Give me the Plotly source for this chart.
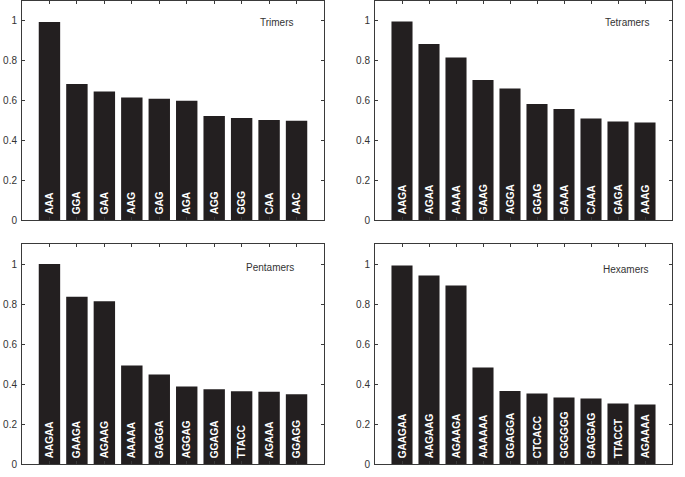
import plotly.graph_objects as go
from plotly.subplots import make_subplots

trimer_labels = ["AAA", "GGA", "GAA", "AAG", "GAG", "AGA", "AGG", "GGG", "CAA", "AAC"]
trimer_values = [0.99, 0.68, 0.643, 0.613, 0.606, 0.596, 0.52, 0.51, 0.5, 0.496]

tetramer_labels = ["AAGA", "AGAA", "AAAA", "GAAG", "AGGA", "GGAG", "GAAA", "CAAA", "GAGA", "AAAG"]
tetramer_values = [0.993, 0.88, 0.812, 0.70, 0.658, 0.58, 0.555, 0.508, 0.492, 0.488]

pentamer_labels = ["AAGAA", "GAAGA", "AGAAG", "AAAAA", "GAGGA", "AGGAG", "GGAGA", "TTACC", "AGAAA", "GGAGG"]
pentamer_values = [1.0, 0.836, 0.814, 0.493, 0.448, 0.388, 0.374, 0.364, 0.361, 0.349]

hexamer_labels = ["GAAGAA", "AAGAAG", "AGAAGA", "AAAAAA", "GGAGGA", "CTCACC", "GGGGGG", "GAGGAG", "TTACCT", "AGAAAA"]
hexamer_values = [0.992, 0.942, 0.893, 0.483, 0.365, 0.352, 0.333, 0.327, 0.302, 0.297]

panel_titles = ["Trimers", "Tetramers", "Pentamers", "Hexamers"]
y_tick_values = [0, 0.2, 0.4, 0.6, 0.8, 1]
y_tick_text = ["0", "0.2", "0.4", "0.6", "0.8", "1"]

W, H = 685, 477
FONT = "Arial, Liberation Sans, Helvetica, sans-serif"
BAR_COLOR = "#231f20"
AXIS_COLOR = "#3a3a3a"

fig = make_subplots(rows=2, cols=2)

panels = [
    (trimer_labels, trimer_values, 1, 1),
    (tetramer_labels, tetramer_values, 1, 2),
    (pentamer_labels, pentamer_values, 2, 1),
    (hexamer_labels, hexamer_values, 2, 2),
]

for labels, values, r, c in panels:
    fig.add_trace(
        go.Bar(
            x=labels,
            y=values,
            text=["\u00a0" + s for s in labels],
            textposition="inside",
            insidetextanchor="start",
            textangle=-90,
            textfont=dict(color="white", size=10, family=FONT, weight="bold"),
            marker=dict(color=BAR_COLOR, line=dict(width=0)),
            width=0.78,
            showlegend=False,
            hoverinfo="x+y",
        ),
        row=r, col=c,
    )

# pixel geometry -> paper domains
def xd(a, b):
    return [a / W, b / W]

def yd(top, bottom):
    return [1 - bottom / H, 1 - top / H]

axes_geom = {
    (1, 1): (xd(22, 324), yd(1, 220), 1.095),
    (1, 2): (xd(375, 672), yd(1, 220), 1.095),
    (2, 1): (xd(22, 324), yd(244, 464), 1.1),
    (2, 2): (xd(375, 672), yd(244, 464), 1.1),
}

for (r, c), (dx, dy, ytop) in axes_geom.items():
    fig.update_xaxes(
        domain=dx, type="category", range=[-1, 10],
        showticklabels=False, ticks="inside", ticklen=3, tickwidth=1,
        tickcolor=AXIS_COLOR, showline=True, linecolor=AXIS_COLOR, linewidth=1,
        mirror="ticks", showgrid=False, zeroline=False, fixedrange=True,
        row=r, col=c,
    )
    fig.update_yaxes(
        domain=dy, range=[0, ytop],
        tickvals=y_tick_values, ticktext=y_tick_text,
        ticks="inside", ticklen=3, tickwidth=1, tickcolor=AXIS_COLOR,
        showline=True, linecolor=AXIS_COLOR, linewidth=1, mirror="ticks",
        showgrid=False, zeroline=False, fixedrange=True,
        tickfont=dict(family=FONT, size=10, color="#333333"),
        ticklabelstandoff=2,
        row=r, col=c,
    )

title_pos = [(296, 23), (651, 23), (296, 267), (651, 269)]
for title, (px, py) in zip(panel_titles, title_pos):
    fig.add_annotation(
        text=title, xref="paper", yref="paper",
        x=px / W, y=1 - py / H, xanchor="right", yanchor="middle",
        showarrow=False, font=dict(family=FONT, size=10, color="#333333"),
    )

fig.update_layout(
    width=W, height=H,
    margin=dict(l=0, r=0, t=0, b=0, autoexpand=False),
    paper_bgcolor="white", plot_bgcolor="white",
    bargap=0.22,
    uniformtext=dict(minsize=10, mode="show"),
)

fig.write_html(
    "out.html",
    config={"displayModeBar": False},
    post_script="document.body.style.margin='0';document.body.style.overflow='hidden';",
)
